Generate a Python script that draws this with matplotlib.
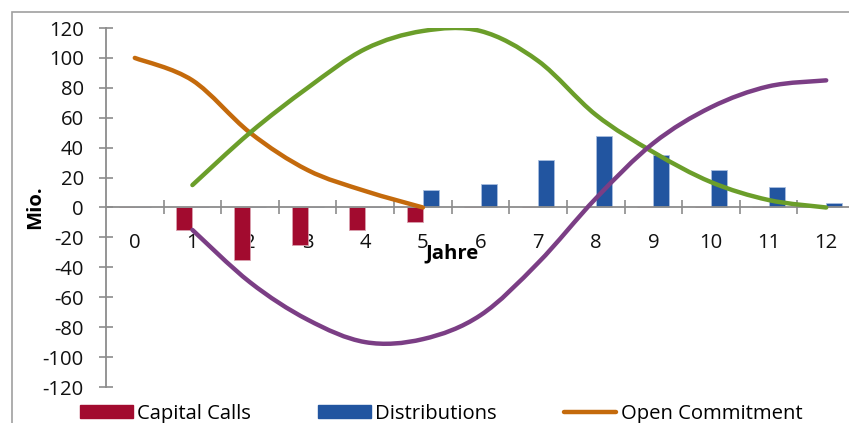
import matplotlib.pyplot as plt
import numpy as np
from matplotlib.path import Path
from matplotlib.patches import PathPatch, Rectangle
from matplotlib.lines import Line2D

plt.rcParams['font.family'] = ['Open Sans', 'DejaVu Sans']
plt.rcParams['axes.unicode_minus'] = False

# Daten (Mio.)
jahre = list(range(13))
capital_calls = [0, -15, -35, -25, -15, -10, 0, 0, 0, 0, 0, 0, 0]
distributions = [0, 0, 0, 0, 0, 12, 16, 32, 48, 35, 25, 14, 3]
open_commitment_x = [0, 1, 2, 3, 4, 5]
open_commitment = [100, 85, 50, 25, 11, 0]
nav_x = [1, 2, 3, 4, 5, 6, 7, 8, 9, 10, 11, 12]
nav = [15, 50, 80, 106, 118, 118, 98, 62, 37, 17, 5, 0]
netto_x = [1, 2, 3, 4, 5, 6, 7, 8, 9, 10, 11, 12]
netto = [-15, -50, -75, -90, -88, -72, -37, 6, 43, 67, 81, 85]

c_calls = '#A20B2F'
c_dist = '#2255A0'
c_open = '#C46A0C'
c_nav = '#6B9E2A'
c_net = '#7B3E85'
grau = '#8C8C8C'
fs = 14.6


def glatt(ax, xs, ys, farbe):
    # Excel-artige geglaettete Linie (Bezier durch die Punkte)
    p = np.column_stack([xs, ys]).astype(float)
    p_ext = np.vstack([p[0], p, p[-1]])
    verts = [p[0]]
    codes = [Path.MOVETO]
    for i in range(len(p) - 1):
        p0, p1, p2, p3 = p_ext[i], p_ext[i + 1], p_ext[i + 2], p_ext[i + 3]
        verts += [p1 + (p2 - p0) / 6, p2 - (p3 - p1) / 6, p2]
        codes += [Path.CURVE4] * 3
    ax.add_patch(PathPatch(Path(verts, codes), fill=False, edgecolor=farbe,
                           lw=3.2, capstyle='round', joinstyle='round', zorder=3))


fig = plt.figure(figsize=(8.49, 4.23), dpi=100)
ax = fig.add_axes([106 / 849, 36 / 423, 749 / 849, 359 / 423])

x = np.array(jahre)
b = 0.28
ax.bar(x - b / 2, capital_calls, width=b, color=c_calls, edgecolor='#D9A0AE', lw=0.6, zorder=2)
ax.bar(x + b / 2, distributions, width=b, color=c_dist, edgecolor='#A9BEDF', lw=0.6, zorder=2)

glatt(ax, open_commitment_x, open_commitment, c_open)
glatt(ax, nav_x, nav, c_nav)
glatt(ax, netto_x, netto, c_net)

ax.set_xlim(-0.5, 12.5)
ax.set_ylim(-120, 120)

ax.spines['top'].set_visible(False)
ax.spines['right'].set_visible(False)
ax.spines['bottom'].set_position(('data', 0))
for s in ['left', 'bottom']:
    ax.spines[s].set_color(grau)
    ax.spines[s].set_linewidth(1.3)

ax.set_yticks(range(-120, 121, 20))
ax.tick_params(axis='y', direction='inout', length=10, width=1.2, color=grau,
               labelsize=fs, pad=11, labelcolor='#111111')

ax.set_xticks(np.arange(0.5, 12.6, 1))
ax.set_xticklabels([])
ax.set_xticks(jahre, minor=True)
ax.set_xticklabels([str(j) for j in jahre], minor=True)
ax.tick_params(axis='x', which='major', direction='inout', length=10, width=1.2, color=grau)
ax.tick_params(axis='x', which='minor', length=0, pad=18, labelsize=fs, labelcolor='#111111')

fig.text(35 / 849, 1 - 207 / 423, 'Mio.', rotation=90, ha='center', va='center',
         fontsize=fs, fontweight='bold')
fig.text(452 / 849, 1 - 253 / 423, 'Jahre', ha='center', va='center',
         fontsize=fs, fontweight='bold')

# Rahmen des Diagrammbereichs
fig.add_artist(Rectangle((12 / 849, -0.1), 1.2, 1 - 12 / 423 + 0.1,
                         transform=fig.transFigure, fill=False, edgecolor='#A0A0A0', lw=1.2))

handles = [Rectangle((0, 0), 1, 1, color=c_calls),
           Rectangle((0, 0), 1, 1, color=c_dist),
           Line2D([0], [0], color=c_open, lw=3.2, solid_capstyle='round')]
fig.legend(handles, ['Capital Calls', 'Distributions', 'Open Commitment'],
           loc='center left', bbox_to_anchor=(80 / 849, 1 - 414 / 423), ncol=3,
           frameon=False, fontsize=fs, handlelength=2.6, handleheight=0.6,
           handletextpad=0.22, columnspacing=3.3, borderpad=0, borderaxespad=0)

fig.savefig('out.png', dpi=100)
